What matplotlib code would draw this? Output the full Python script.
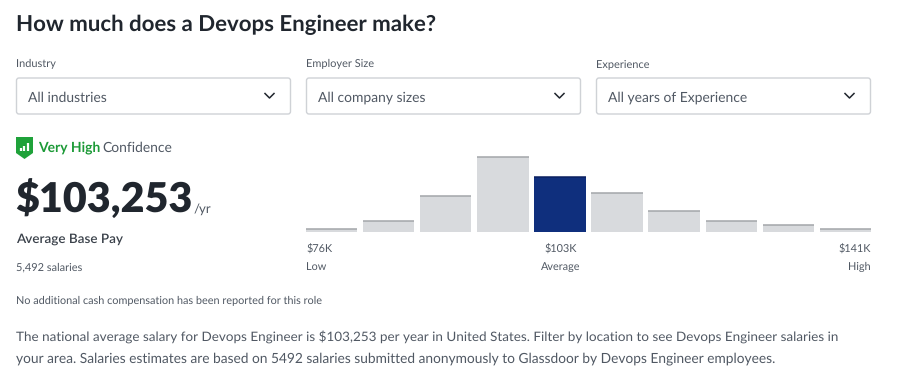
import matplotlib
matplotlib.use("Agg")
import matplotlib.pyplot as plt
from matplotlib.patches import FancyBboxPatch, Polygon

plt.rcParams["font.family"] = ["Lato", "DejaVu Sans"]
plt.rcParams["text.hinting"] = "no_hinting"

# Salary histogram, bar height
bins = list(range(10))
counts = [2.5, 10.5, 35.5, 74.5, 54.5, 38.5, 20.5, 10.5, 7, 2.5]
highlight = 4

filters = ["Industry", "Employer Size", "Experience"]
filter_values = ["All industries", "All company sizes", "All years of Experience"]
filter_x = [16, 306, 596]

tick_labels = ["$76K", "$103K", "$141K"]
tick_names = ["Low", "Average", "High"]

DARK = "#20262e"
GREY = "#505863"

W, H = 900, 390
fig = plt.figure(figsize=(W / 100, H / 100), dpi=100)
bg = fig.add_axes([0, 0, 1, 1])
bg.set_xlim(0, W)
bg.set_ylim(H, 0)
bg.axis("off")


def label(x, y, s, size, color=GREY, weight="normal", ha="left"):
    return bg.text(x, y, s, fontsize=size, color=color, weight=weight, ha=ha, va="center")


label(16, 25, "How much does a Devops Engineer make?", 16, DARK, "bold")

# dropdowns
for x, name, val in zip(filter_x, filters, filter_values):
    label(x, 64, name, 7.9, GREY)
    bg.add_patch(FancyBboxPatch((x + 0.5, 78), 274, 36, boxstyle="round,pad=0,rounding_size=2.5",
                                fc="white", ec="#cfd2d6", lw=1))
    label(x + 12, 97.5, val, 10, GREY)
    bg.plot([x + 249, x + 253.5, x + 258], [93.5, 98, 93.5], color=DARK, lw=1.1)

# confidence badge
bg.add_patch(Polygon([(16, 137), (33, 137), (33, 153), (24.5, 159), (16, 153)], fc="#1fa23a", ec="none"))
for bx, top in zip([21, 24, 27.5], [148, 146, 143]):
    bg.plot([bx, bx], [151, top], color="white", lw=1.6, solid_capstyle="butt")
label(38, 147.5, "Very High", 10, "#1c9a37", "bold")
label(102, 147.5, "Confidence", 10, GREY)

label(15, 199, "$103,253", 29.7, DARK, "heavy")
label(194, 209, "/yr", 9.5, GREY)
label(16, 239.5, "Average Base Pay", 9.7, "#3a414a", "semibold")
label(16, 267.5, "5,492 salaries", 7.9, GREY)
label(16, 300.5, "No additional cash compensation has been reported for this role", 7.8, GREY)

label(16, 337, "The national average salary for Devops Engineer is \\$103,253 per year in United States. "
               "Filter by location to see Devops Engineer salaries in", 9.7, GREY)
label(16, 359, "your area. Salaries estimates are based on 5492 salaries submitted anonymously to Glassdoor "
               "by Devops Engineer employees.", 9.88, GREY)

# histogram
x0, x1, base, top = 303, 874, 231.7, 150
ax = fig.add_axes([x0 / W, 1 - base / H, (x1 - x0) / W, (base - top) / H])
colors = ["#0f2f7d" if i == highlight else "#d8dadd" for i in bins]
ax.bar(bins, counts, width=0.9, color=colors)
ax.hlines(counts, [b - 0.45 for b in bins], [b + 0.45 for b in bins],
          color=["#0b2060" if i == highlight else "#a3a6aa" for i in bins], lw=1.1)
ax.set_xlim(-0.5, 9.5)
ax.set_ylim(0, base - top)
ax.axis("off")

for x, ha, lab, name in zip([306, 561, 871], ["left", "center", "right"], tick_labels, tick_names):
    label(x, 248, lab, 7.8, GREY, ha=ha)
    label(x, 267, name, 7.8, GREY, ha=ha)

fig.savefig("out.png", dpi=100)
